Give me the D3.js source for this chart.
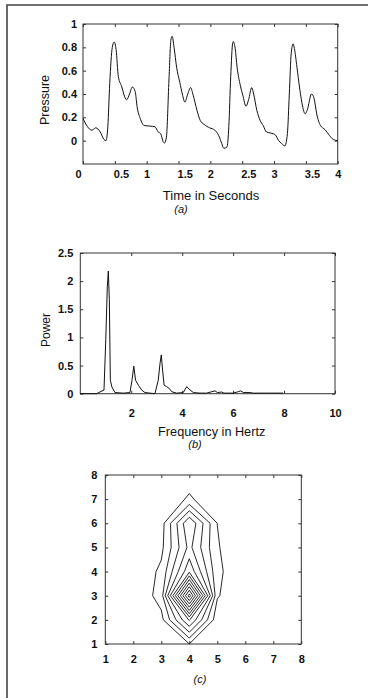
<!DOCTYPE html>
<html><head><meta charset="utf-8">
<script src="https://cdn.jsdelivr.net/npm/d3@7"></script>
<style>
body{margin:0;background:#fff}
svg{display:block}
text{font-family:"Liberation Sans",Arial,Helvetica,sans-serif;fill:#111}
</style>
</head><body>
<svg id="fig" width="370" height="698"></svg>
<script>
// ---------- Panel (a): pressure waveform ----------
const timeSec = [0,0.07,0.14,0.2,0.27,0.33,0.36,0.39,0.42,0.46,0.49,0.52,0.555,0.61,0.64,0.685,0.73,0.775,0.82,0.85,0.9,0.96,1.05,1.13,1.18,1.22,1.26,1.28,1.31,1.35,1.38,1.4,1.43,1.47,1.52,1.56,1.6,1.64,1.69,1.73,1.79,1.84,1.9,1.99,2.07,2.13,2.18,2.21,2.26,2.29,2.32,2.35,2.36,2.39,2.42,2.47,2.51,2.56,2.6,2.65,2.68,2.73,2.78,2.83,2.88,2.95,3.02,3.07,3.12,3.17,3.21,3.24,3.27,3.3,3.32,3.36,3.4,3.43,3.49,3.52,3.59,3.63,3.67,3.73,3.8,3.87,3.93,4.0];
const pressure = [0.19,0.12,0.09,0.11,0.075,0.01,0.0,0.12,0.49,0.8,0.845,0.78,0.55,0.46,0.40,0.35,0.40,0.46,0.42,0.29,0.19,0.13,0.125,0.12,0.075,0.06,-0.01,-0.02,0.03,0.52,0.86,0.895,0.8,0.63,0.50,0.40,0.33,0.39,0.455,0.39,0.26,0.175,0.14,0.11,0.09,0.045,-0.025,-0.065,-0.055,0.12,0.55,0.835,0.85,0.79,0.63,0.475,0.39,0.295,0.35,0.455,0.40,0.26,0.175,0.13,0.075,0.065,0.05,0.003,-0.025,-0.045,0.06,0.40,0.75,0.83,0.79,0.63,0.46,0.35,0.23,0.26,0.40,0.36,0.23,0.13,0.095,0.045,0.01,0.0];
const timeTicks = [0,0.5,1,1.5,2,2.5,3,3.5,4];
const pressureTicks = [0,0.2,0.4,0.6,0.8,1];

// ---------- Panel (b): power spectrum ----------
const freqHz = [0,0.64,0.77,0.93,1.0,1.06,1.1,1.14,1.18,1.24,1.36,1.69,1.95,2.03,2.1,2.17,2.28,2.41,2.54,2.93,3.06,3.13,3.18,3.23,3.29,3.39,3.49,3.59,3.78,4.04,4.18,4.31,4.44,4.7,4.96,5.16,5.29,5.38,5.55,5.64,6.0,6.2,6.3,6.4,6.66,6.8,7.3,7.97];
const power = [0,0,0.03,0.065,0.96,1.9,2.18,1.67,0.24,0.12,0.02,0.01,0.02,0.24,0.49,0.24,0.15,0.065,0.02,0,0.24,0.54,0.69,0.42,0.15,0.125,0.095,0.035,0.01,0.02,0.125,0.065,0.02,0.01,0.01,0.035,0.05,0.02,0.03,0.01,0.01,0.035,0.05,0.02,0.02,0.01,0.01,0.01];
const freqTicks = [2,4,6,8,10];
const powerTicks = [0,0.5,1,1.5,2,2.5];

// ---------- Panel (c): contour of a gridded density (rows y=1..8, cols x=1..8) ----------
const gridTicks = [1,2,3,4,5,6,7,8];
const density = [
  [0, 0, 0.3,  0.99, 0.3,  0, 0, 0],
  [0, 0, 0.69, 5.1,  0.33, 0, 0, 0],
  [0, 0, 1.45, 12.5, 1.1,  0, 0, 0],
  [0, 0, 1.23, 5.8,  1.27, 0, 0, 0],
  [0, 0, 0.75, 4.3,  1.1,  0, 0, 0],
  [0, 0, 0.56, 4.93, 0.99, 0, 0, 0],
  [0, 0, 0,    1.2,  0,    0, 0, 0],
  [0, 0, 0,    0.33, 0,    0, 0, 0]
];
const contourLevels = [1,2,3,4,5,6,7,8,9,10,11,12];

// ---------- drawing ----------
const svg = d3.select("#fig");
svg.append("rect").attr("width",370).attr("height",698).attr("fill","#fff");
// figure frame (top + left)
svg.append("path").attr("d","M7,698V5H368").attr("fill","none").attr("stroke","#444").attr("stroke-width",1.6);

const INK = "#111", AX = "#333";

function frame(x, y, xt, yt, xPad, yPad, xFmt, yFmt) {
  const g = svg.append("g");
  const [x0,x1] = x.range(), [y0,y1] = y.range();
  const styleAxis = a => {
    a.select(".domain").remove();
    a.selectAll(".tick line").attr("stroke",AX);
    a.selectAll("text").attr("font-size",11).attr("font-weight","bold").attr("fill",INK)
      .attr("font-family",'"Liberation Sans",Arial,sans-serif');
  };
  const bx = g.append("g").attr("transform",`translate(0,${y0})`)
    .call(d3.axisBottom(x).tickValues(xt).tickSize(-3).tickPadding(xPad).tickFormat(xFmt)).call(styleAxis);
  g.append("g").attr("transform",`translate(0,${y1})`)
    .call(d3.axisTop(x).tickValues(xt).tickSize(-3).tickFormat("")).call(styleAxis);
  g.append("g").attr("transform",`translate(${x0},0)`)
    .call(d3.axisLeft(y).tickValues(yt).tickSize(-3).tickPadding(yPad).tickFormat(yFmt)).call(styleAxis);
  g.append("g").attr("transform",`translate(${x1},0)`)
    .call(d3.axisRight(y).tickValues(yt).tickSize(-3).tickFormat("")).call(styleAxis);
  g.append("rect").attr("x",x0).attr("y",y1).attr("width",x1-x0).attr("height",y0-y1)
    .attr("fill","none").attr("stroke",AX).attr("stroke-width",1);
  return {g, bx};
}
function label(txt, x, y, opts={}) {
  const t = svg.append("text").attr("x",x).attr("y",y).attr("text-anchor","middle")
    .attr("font-size",opts.size||13).text(txt);
  if (opts.italic) t.attr("font-style","italic");
  if (opts.rotate) t.attr("transform",`rotate(-90,${x},${y})`).attr("dominant-baseline","central");
  return t;
}

// Panel (a)
const xa = d3.scaleLinear().domain([0,4]).range([83,337.7]);
const ya = d3.scaleLinear().domain([-0.2,1]).range([164,24]);
const fa = frame(xa, ya, timeTicks, pressureTicks, 6, 6, d=>String(d), d=>String(d));
fa.bx.selectAll(".tick text").each(function(d){
  const s = d3.select(this);
  if (String(d).includes(".")) s.attr("text-anchor","start").attr("dx",-1.5);
  if (d===0) s.attr("dx",-5);
});
svg.append("path").datum(d3.zip(timeSec, pressure))
  .attr("d", d3.line().x(d=>xa(d[0])).y(d=>ya(d[1])).curve(d3.curveMonotoneX))
  .attr("fill","none").attr("stroke",INK).attr("stroke-width",1);
label("Pressure", 45, 100, {rotate:true, size:12.5});
label("Time in Seconds", 211, 200);
label("(a)", 181, 212.5, {italic:true, size:11});

// Panel (b)
const xb = d3.scaleLinear().domain([0,10]).range([80.3,335]);
const yb = d3.scaleLinear().domain([0,2.5]).range([393.7,253]);
frame(xb, yb, freqTicks, powerTicks, 16, 7, d=>String(d), d=>String(d));
svg.append("path").datum(d3.zip(freqHz, power))
  .attr("d", d3.line().x(d=>xb(d[0])).y(d=>yb(d[1])))
  .attr("fill","none").attr("stroke",INK).attr("stroke-width",1);
label("Power", 46, 330, {rotate:true, size:12});
label("Frequency in Hertz", 211.7, 435.5, {size:12.7});
label("(b)", 195, 447.5, {italic:true, size:11});

// Panel (c)
const xc = d3.scaleLinear().domain([1,8]).range([105.3,301.3]);
const yc = d3.scaleLinear().domain([1,8]).range([644,475]);
frame(xc, yc, gridTicks, gridTicks, 11, 8, d=>String(d), d=>String(d));
const cont = d3.contours().size([gridTicks.length, gridTicks.length]).thresholds(contourLevels)(density.flat());
const proj = d3.geoTransform({point(px,py){ this.stream.point(xc(px+0.5), yc(py+0.5)); }});
svg.append("g").selectAll("path").data(cont).join("path")
  .attr("d", d3.geoPath(proj)).attr("fill","none").attr("stroke",INK).attr("stroke-width",0.9);
label("(c)", 200, 683, {italic:true, size:11});
</script>
</body></html>
